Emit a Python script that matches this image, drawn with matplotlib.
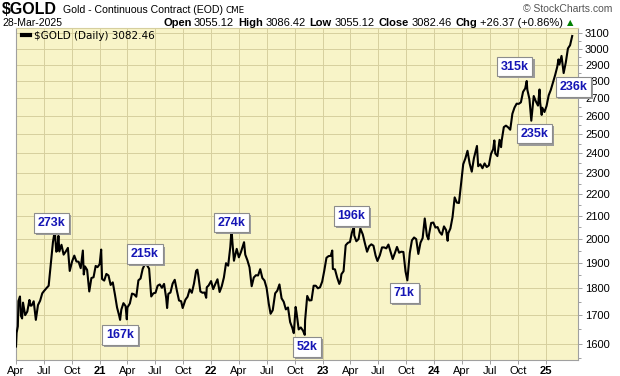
import matplotlib
matplotlib.use('Agg')
import matplotlib.pyplot as plt
import pandas as pd
from matplotlib.ticker import FixedLocator, FormatStrFormatter, NullFormatter
from matplotlib.lines import Line2D
from matplotlib import patheffects

plt.rcParams['font.family'] = ['Liberation Sans', 'DejaVu Sans']

# closes (aprox. semanais + extremos)
dates_2020 = ['2020-04-01', '2020-04-03', '2020-04-07', '2020-04-09', '2020-04-14', '2020-04-17',
              '2020-04-21', '2020-04-24', '2020-05-01', '2020-05-08', '2020-05-15', '2020-05-18',
              '2020-05-22', '2020-05-29', '2020-06-05', '2020-06-12', '2020-06-19', '2020-06-26',
              '2020-07-02', '2020-07-10', '2020-07-17', '2020-07-24', '2020-07-28', '2020-07-31',
              '2020-08-06', '2020-08-11', '2020-08-14', '2020-08-18', '2020-08-21', '2020-08-28',
              '2020-09-04', '2020-09-11', '2020-09-18', '2020-09-24', '2020-10-02', '2020-10-09',
              '2020-10-16', '2020-10-23', '2020-10-30', '2020-11-06', '2020-11-09', '2020-11-13',
              '2020-11-20', '2020-11-27', '2020-12-04', '2020-12-11', '2020-12-18', '2020-12-24',
              '2020-12-31']
close_2020 = [1590, 1637, 1660, 1752, 1769, 1698,
              1688, 1746, 1700, 1713, 1756, 1735,
              1735, 1751, 1683, 1737, 1753, 1781,
              1790, 1801, 1810, 1897, 1944, 1986,
              2035, 1946, 1951, 2013, 1947, 1975,
              1934, 1947, 1962, 1868, 1907, 1930,
              1906, 1905, 1879, 1951, 1854, 1886,
              1872, 1788, 1840, 1843, 1888, 1883,
              1895]

dates_2021 = ['2021-01-05', '2021-01-08', '2021-01-15', '2021-01-22', '2021-01-29', '2021-02-05',
              '2021-02-12', '2021-02-19', '2021-02-26', '2021-03-05', '2021-03-08', '2021-03-12',
              '2021-03-19', '2021-03-26', '2021-03-30', '2021-04-01', '2021-04-09', '2021-04-16',
              '2021-04-23', '2021-04-30', '2021-05-07', '2021-05-14', '2021-05-21', '2021-05-28',
              '2021-06-04', '2021-06-11', '2021-06-18', '2021-06-25', '2021-07-02', '2021-07-09',
              '2021-07-16', '2021-07-23', '2021-07-30', '2021-08-06', '2021-08-09', '2021-08-13',
              '2021-08-20', '2021-08-27', '2021-09-03', '2021-09-10', '2021-09-17', '2021-09-24',
              '2021-09-29', '2021-10-08', '2021-10-15', '2021-10-22', '2021-10-29', '2021-11-05',
              '2021-11-12', '2021-11-16', '2021-11-19', '2021-11-26', '2021-12-03', '2021-12-10',
              '2021-12-15', '2021-12-17', '2021-12-23', '2021-12-31']
close_2021 = [1955, 1836, 1830, 1856, 1850, 1813,
              1823, 1777, 1728, 1698, 1683, 1720,
              1744, 1733, 1685, 1728, 1743, 1780,
              1777, 1768, 1831, 1838, 1876, 1895,
              1891, 1877, 1769, 1781, 1783, 1810,
              1815, 1802, 1817, 1763, 1726, 1779,
              1784, 1818, 1833, 1791, 1754, 1751,
              1726, 1757, 1768, 1796, 1783, 1818,
              1868, 1873, 1852, 1788, 1783, 1784,
              1764, 1804, 1811, 1828]

dates_2022 = ['2022-01-07', '2022-01-14', '2022-01-21', '2022-01-28', '2022-02-04', '2022-02-11',
              '2022-02-18', '2022-02-25', '2022-03-04', '2022-03-08', '2022-03-11', '2022-03-16',
              '2022-03-18', '2022-03-25', '2022-04-01', '2022-04-08', '2022-04-18', '2022-04-22',
              '2022-04-29', '2022-05-06', '2022-05-13', '2022-05-20', '2022-05-27', '2022-06-03',
              '2022-06-10', '2022-06-17', '2022-06-24', '2022-07-01', '2022-07-08', '2022-07-14',
              '2022-07-21', '2022-07-29', '2022-08-05', '2022-08-12', '2022-08-19', '2022-08-26',
              '2022-09-02', '2022-09-09', '2022-09-16', '2022-09-23', '2022-09-28', '2022-10-04',
              '2022-10-07', '2022-10-14', '2022-10-21', '2022-10-28', '2022-11-03', '2022-11-04',
              '2022-11-11', '2022-11-18', '2022-11-25', '2022-12-02', '2022-12-09', '2022-12-16',
              '2022-12-23', '2022-12-30']
close_2022 = [1797, 1817, 1835, 1786, 1808, 1842,
              1899, 1889, 1966, 2040, 1985, 1909,
              1921, 1958, 1923, 1945, 1986, 1934,
              1911, 1882, 1808, 1842, 1851, 1850,
              1875, 1840, 1830, 1801, 1742, 1705,
              1718, 1781, 1791, 1815, 1762, 1749,
              1721, 1728, 1675, 1655, 1636, 1730,
              1709, 1649, 1656, 1645, 1630, 1681,
              1771, 1754, 1755, 1810, 1810, 1800,
              1804, 1826]

dates_2023 = ['2023-01-06', '2023-01-13', '2023-01-20', '2023-01-27', '2023-02-01', '2023-02-03',
              '2023-02-10', '2023-02-17', '2023-02-24', '2023-02-28', '2023-03-03', '2023-03-10',
              '2023-03-17', '2023-03-24', '2023-03-31', '2023-04-06', '2023-04-13', '2023-04-14',
              '2023-04-21', '2023-04-28', '2023-05-04', '2023-05-12', '2023-05-19', '2023-05-26',
              '2023-06-02', '2023-06-09', '2023-06-16', '2023-06-23', '2023-06-29', '2023-07-07',
              '2023-07-14', '2023-07-21', '2023-07-28', '2023-08-04', '2023-08-11', '2023-08-18',
              '2023-08-25', '2023-09-01', '2023-09-08', '2023-09-15', '2023-09-22', '2023-09-29',
              '2023-10-05', '2023-10-13', '2023-10-20', '2023-10-27', '2023-11-03', '2023-11-10',
              '2023-11-17', '2023-11-24', '2023-12-01', '2023-12-08', '2023-12-13', '2023-12-15',
              '2023-12-22', '2023-12-29']
close_2023 = [1870, 1921, 1928, 1929, 1951, 1876,
              1874, 1842, 1817, 1828, 1855, 1867,
              1973, 1983, 1987, 2025, 2055, 2015,
              1990, 1999, 2045, 2019, 1981, 1946,
              1969, 1977, 1971, 1930, 1908, 1932,
              1964, 1964, 1960, 1976, 1946, 1916,
              1940, 1966, 1942, 1946, 1945, 1866,
              1831, 1941, 1994, 2006, 1999, 1937,
              1984, 2003, 2089, 2014, 1998, 2019,
              2069, 2071]

dates_2024 = ['2024-01-05', '2024-01-12', '2024-01-19', '2024-01-26', '2024-02-02', '2024-02-09',
              '2024-02-14', '2024-02-16', '2024-02-23', '2024-03-01', '2024-03-08', '2024-03-15',
              '2024-03-22', '2024-03-28', '2024-04-05', '2024-04-12', '2024-04-19', '2024-04-26',
              '2024-05-03', '2024-05-10', '2024-05-17', '2024-05-20', '2024-05-24', '2024-05-31',
              '2024-06-07', '2024-06-14', '2024-06-21', '2024-06-28', '2024-07-05', '2024-07-12',
              '2024-07-16', '2024-07-19', '2024-07-26', '2024-08-02', '2024-08-07', '2024-08-09',
              '2024-08-16', '2024-08-23', '2024-08-30', '2024-09-06', '2024-09-13', '2024-09-20',
              '2024-09-27', '2024-10-04', '2024-10-11', '2024-10-18', '2024-10-25', '2024-10-30',
              '2024-11-01', '2024-11-08', '2024-11-14', '2024-11-22', '2024-11-29', '2024-12-06',
              '2024-12-11', '2024-12-13', '2024-12-18', '2024-12-20', '2024-12-27', '2024-12-31']
close_2024 = [2049, 2051, 2029, 2018, 2054, 2038,
              1992, 2024, 2045, 2095, 2185, 2161,
              2159, 2238, 2345, 2374, 2413, 2349,
              2308, 2375, 2419, 2438, 2335, 2345,
              2325, 2349, 2331, 2339, 2397, 2421,
              2467, 2399, 2386, 2470, 2432, 2466,
              2538, 2546, 2537, 2524, 2611, 2646,
              2668, 2667, 2676, 2736, 2756, 2800,
              2749, 2694, 2573, 2712, 2681, 2657,
              2750, 2675, 2605, 2645, 2621, 2641]

dates_2025 = ['2025-01-03', '2025-01-10', '2025-01-17', '2025-01-24', '2025-01-31', '2025-02-07',
              '2025-02-11', '2025-02-14', '2025-02-21', '2025-02-28', '2025-03-07', '2025-03-14',
              '2025-03-21', '2025-03-28']
close_2025 = [2655, 2716, 2748, 2792, 2835, 2886,
              2932, 2900, 2954, 2848, 2913, 3001,
              3022, 3082]

# anotações de volume
note_labels = ['273k', '167k', '215k', '274k', '52k', '196k', '71k', '315k', '235k', '236k']
note_dates = ['2020-08-06', '2021-03-08', '2021-05-28', '2022-03-08', '2022-11-03',
              '2023-05-04', '2023-10-05', '2024-10-30', '2024-11-14', '2025-02-28']

y_ticks = [1600, 1700, 1800, 1900, 2000, 2100, 2200, 2300, 2400, 2500,
           2600, 2700, 2800, 2900, 3000, 3100]

last_date = '28-Mar-2025'
open_p, high_p, low_p, close_p = 3055.12, 3086.42, 3055.12, 3082.46
chg, chg_pct = 26.37, 0.86

# monta a série
all_dates = dates_2020 + dates_2021 + dates_2022 + dates_2023 + dates_2024 + dates_2025
all_close = close_2020 + close_2021 + close_2022 + close_2023 + close_2024 + close_2025
serie = pd.Series(all_close, index=pd.to_datetime(all_dates))

W, H = 620, 376
fig = plt.figure(figsize=(W / 100, H / 100), dpi=100)
ax = fig.add_axes([16 / W, 1 - 360 / H, (578 - 16) / W, (360 - 28) / H])
ax.set_facecolor('#F8F4C8')

ax.plot(serie.index, serie.values, color='black', lw=1.5, zorder=3)

ax.set_yscale('log')
ax.set_ylim(1545, 3135)
ax.set_xlim(pd.Timestamp('2020-04-01'), pd.Timestamp('2025-04-16'))

ax.yaxis.set_major_locator(FixedLocator(y_ticks))
ax.yaxis.set_minor_locator(FixedLocator([v + 50 for v in y_ticks[:-1]] + [1550]))
ax.yaxis.set_major_formatter(FormatStrFormatter('%d'))
ax.yaxis.set_minor_formatter(NullFormatter())
ax.yaxis.tick_right()
ax.tick_params(axis='y', which='major', length=3, width=0.6, color='#909090', pad=2, labelsize=8)
ax.tick_params(axis='y', which='minor', length=2, width=0.6, color='#909090')

# eixo x trimestral
quarters = pd.date_range('2020-04-01', '2025-01-01', freq='QS-JAN')
q_labels = [d.strftime('%y') if d.month == 1 else d.strftime('%b') for d in quarters]
ax.set_xticks(quarters)
ax.set_xticklabels(q_labels)
for lbl, d in zip(ax.get_xticklabels(), quarters):
    if d.month == 1:
        lbl.set_fontweight('bold')
ax.tick_params(axis='x', length=3, width=0.6, color='#909090', pad=1.5, labelsize=8)
ax.xaxis.set_minor_locator(FixedLocator([]))

ax.grid(True, which='major', color='#D6CF9E', lw=0.7)
ax.set_axisbelow(True)
for nome, sp in ax.spines.items():
    sp.set_color('#A0A0A0')
    sp.set_linewidth(0.8)
ax.spines['top'].set_color('#D6CF9E')

# legenda
h = Line2D([], [], color='black', lw=3)
ax.legend([h], ['$GOLD (Daily) %.2f' % close_p], loc='upper left', bbox_to_anchor=(0, 1.01),
          frameon=False, handlelength=0.7, handletextpad=0.4, borderaxespad=0.2,
          prop={'family': 'DejaVu Sans', 'size': 7.5})

# caixas de volume
offsets = [(-3, 8), (0, -15), (0, 10), (0, 7), (2, -12), (-9, 12.5), (-3, -12.5),
           (-12, 14.5), (3, -13), (10, -14)]
for lab, d, (dx, dy) in zip(note_labels, note_dates, offsets):
    t = pd.Timestamp(d)
    a = ax.annotate(lab, xy=(t, serie.loc[t]), xytext=(dx, dy), textcoords='offset pixels',
                    ha='center', va='center', fontsize=9, fontweight='bold', color='#1515B5',
                    bbox=dict(boxstyle='square,pad=0.3', fc='white', ec='#8C8C8C', lw=0.8),
                    annotation_clip=False, zorder=6)
    a.get_bbox_patch().set_path_effects(
        [patheffects.withSimplePatchShadow(offset=(1.5, -1.5), shadow_rgbFace='#9A9A9A', alpha=1)])

# cabeçalho
def fx(x):
    return x / W

def fy(y):
    return 1 - y / H

renderer = fig.canvas.get_renderer()

fig.text(fx(2), fy(10), '$GOLD', fontsize=11.5, fontweight='bold', va='center')
sub = fig.text(fx(63), fy(10), 'Gold - Continuous Contract (EOD)', fontsize=7.6, va='center')
x_cme = 63 + sub.get_window_extent(renderer).width + 3
fig.text(fx(x_cme), fy(10.5), 'CME', family='DejaVu Sans', fontsize=6.3, va='center')
fig.text(fx(612), fy(9), '\u00a9 StockCharts.com', ha='right', va='center', fontsize=7.5, color='#555555')
fig.text(fx(2), fy(22.5), last_date, fontsize=7.5, va='center')

pecas = [('Open', True), ('%.2f' % open_p, False), ('High', True), ('%.2f' % high_p, False),
         ('Low', True), ('%.2f' % low_p, False), ('Close', True), ('%.2f' % close_p, False),
         ('Chg', True), ('+%.2f (+%.2f%%)' % (chg, chg_pct), False)]
x = 163
for txt, negrito in pecas:
    t = fig.text(fx(x), fy(22.5), txt, fontsize=8, va='center',
                 fontweight='bold' if negrito else 'normal')
    w = t.get_window_extent(renderer).width
    x += w + (2.5 if negrito else 4)
fig.text(fx(x), fy(22.5), '\u25b2', fontsize=6, va='center', color='#008000', family='DejaVu Sans')

fig.savefig('out.png', dpi=100)
